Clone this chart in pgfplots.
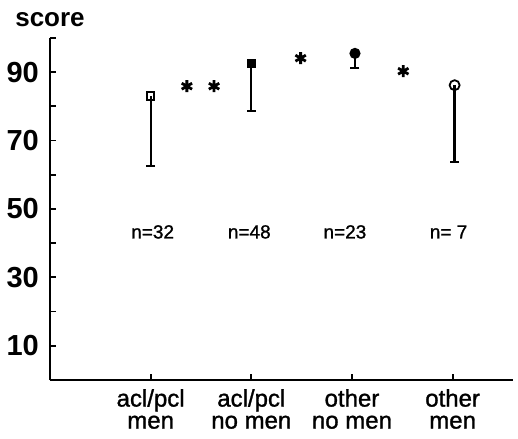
\documentclass[border=0pt]{standalone}
\usepackage{fontspec}
\setmainfont{Liberation Sans}
\newfontfamily\medfont[FakeBold=1.2]{Liberation Sans}
\usepackage{pgfplots}
\pgfplotsset{compat=1.18}
\begin{document}
\begin{tikzpicture}
\begin{axis}[
  scale only axis, width=463pt, height=342pt,
  xmin=0, xmax=4.6, ymin=0, ymax=100,
  axis x line*=bottom, axis y line*=left,
  axis line style={-, line width=2pt},
  tick align=inside, major tick length=6pt, minor tick length=6pt,
  every tick/.style={black, line width=1.8pt},
  xtick={1,2,3,4},
  xticklabels={acl/pcl\\men, acl/pcl\\no men, other\\no men, other\\men},
  xticklabel style={align=center, font=\medfont\fontsize{24}{22}\selectfont, inner sep=2pt, yshift=-7pt},
  ytick={10,30,50,70,90}, yticklabels={10,30,50,70,90},
  minor ytick={20,40,60,80,100},
  yticklabel style={font=\bfseries\fontsize{29}{29}\selectfont, inner sep=2pt, xshift=-9pt},
  clip=false,
]
% score means with lower bars
\addplot[only marks, mark=square, mark size=3.8pt, line width=2pt, mark options={fill=white},
  error bars/.cd, y dir=minus, y explicit,
  error bar style={line width=2.3pt},
  error mark options={line width=2.3pt, mark size=4.5pt, rotate=90}]
  coordinates {(1,83) -= (0,20.4)};
\addplot[only marks, mark=square*, mark size=4pt, line width=1.5pt,
  error bars/.cd, y dir=minus, y explicit,
  error bar style={line width=2.3pt},
  error mark options={line width=2.3pt, mark size=4.5pt, rotate=90}]
  coordinates {(2,92.6) -= (0,14.0)};
\addplot[only marks, mark=*, mark size=4.8pt, line width=1.5pt,
  error bars/.cd, y dir=minus, y explicit,
  error bar style={line width=2.3pt},
  error mark options={line width=2.3pt, mark size=4.5pt, rotate=90}]
  coordinates {(3.03,95.5) -= (0,4.3)};
\addplot[only marks, mark=o, mark size=5pt, line width=1.8pt, mark options={fill=white},
  error bars/.cd, y dir=minus, y explicit,
  error bar style={line width=2.3pt},
  error mark options={line width=2.3pt, mark size=4.5pt, rotate=90}]
  coordinates {(4.02,86.2) -= (0,22.5)};
% significance asterisks
\addplot[only marks, mark=asterisk, mark size=6pt, line width=2.8pt]
  coordinates {(1.36,85.9) (1.63,85.9) (2.49,94.1) (3.51,90.3)};
\node[font=\medfont\fontsize{19}{19}\selectfont] at (axis cs:1.02,43.3) {n=32};
\node[font=\medfont\fontsize{19}{19}\selectfont] at (axis cs:1.98,43.3) {n=48};
\node[font=\medfont\fontsize{19}{19}\selectfont] at (axis cs:2.93,43.3) {n=23};
\node[font=\medfont\fontsize{19}{19}\selectfont] at (axis cs:3.96,43.3) {n= 7};
\node[anchor=base, font=\bfseries\fontsize{26}{26}\selectfont] at ([yshift=11pt]rel axis cs:0,1) {score};
\path ([shift={(-50pt,-58pt)}]rel axis cs:0,0) rectangle ([shift={(5pt,38pt)}]rel axis cs:1,1);
\end{axis}
\end{tikzpicture}
\end{document}
